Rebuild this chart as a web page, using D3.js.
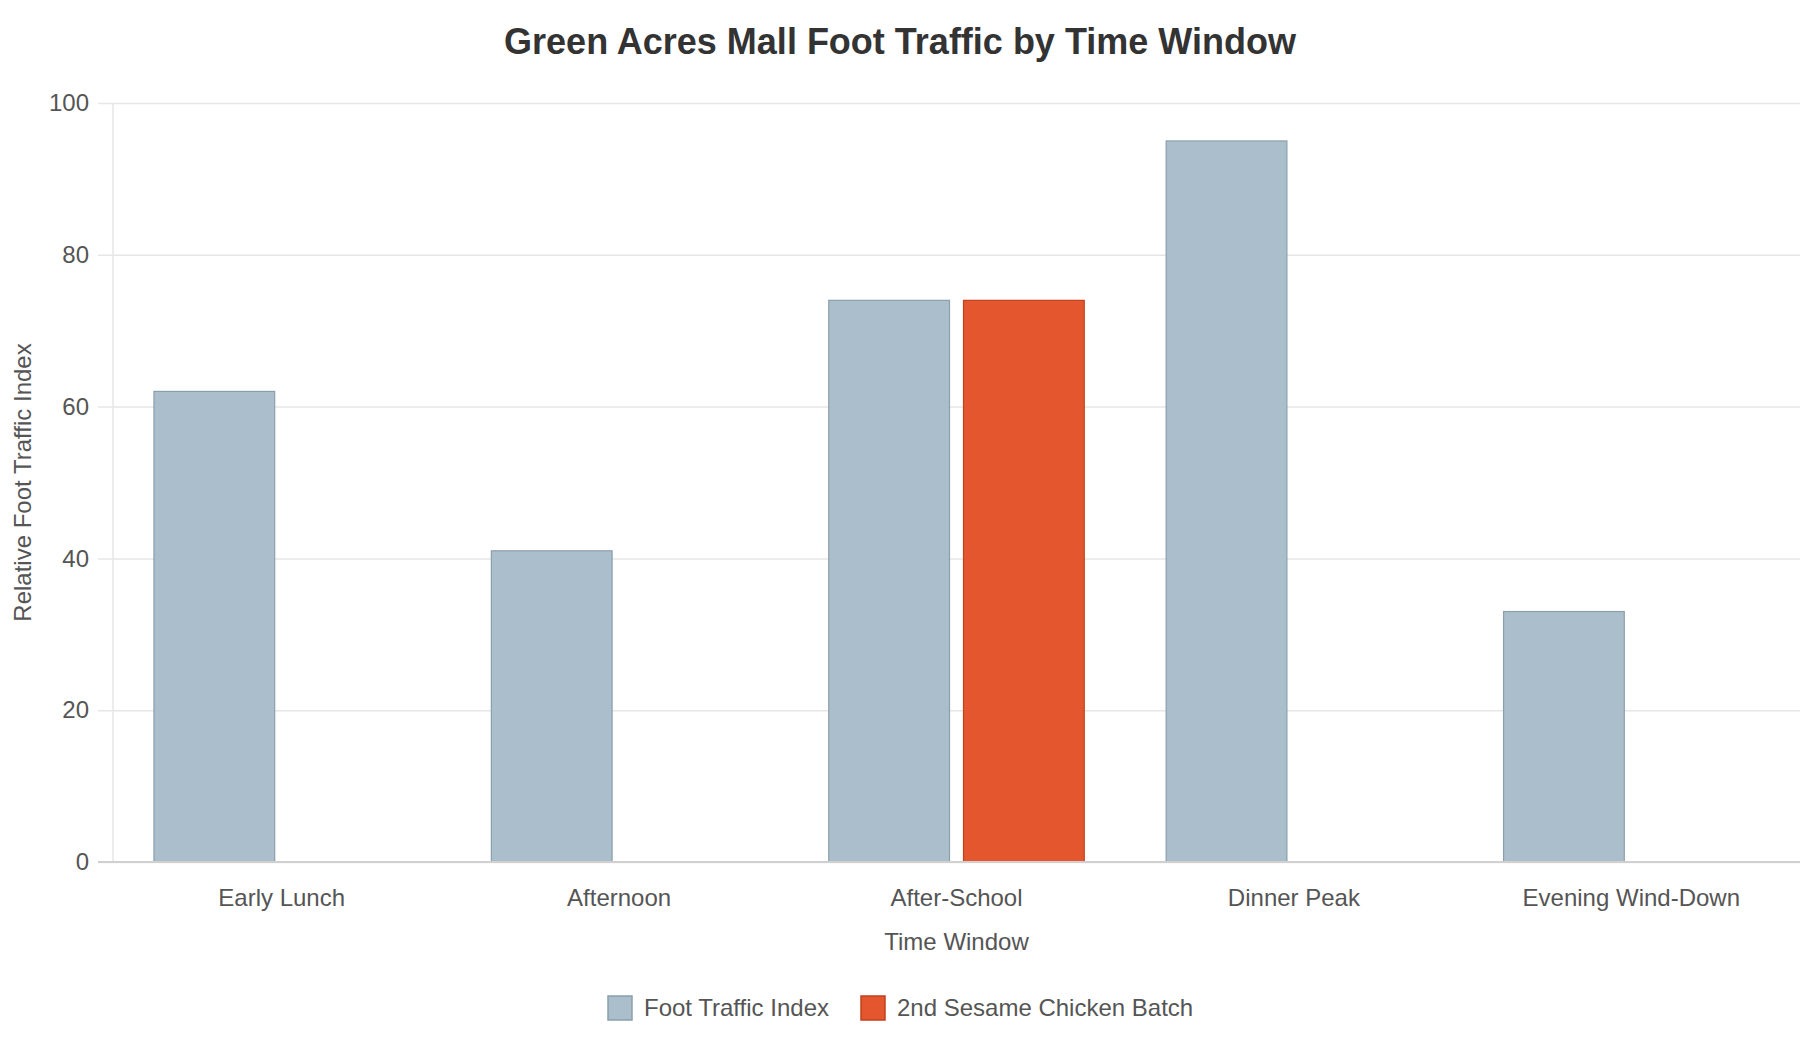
<!DOCTYPE html>
<html>
<head>
<meta charset="utf-8">
<script src="https://cdn.jsdelivr.net/npm/d3@7"></script>
<style>
  body { margin: 0; background: #fff; }
  svg text { font-family: "Liberation Sans", Arial, sans-serif; }
</style>
</head>
<body>
<div class="chart"></div>
<script>
const categories = ["Early Lunch", "Afternoon", "After-School", "Dinner Peak", "Evening Wind-Down"]
const seriesNames = ["Foot Traffic Index", "2nd Sesame Chicken Batch"]
const footTraffic = [62, 41, 74, 95, 33]
const sesameBatch = [null, null, 74, null, null]
const yTicks = [0, 20, 40, 60, 80, 100]

const colors = {
  blue: "#aabfcb",
  blueStroke: "#8b9fab",
  orange: "#e4572e",
  orangeStroke: "#c2401c",
  grid: "#e6e6e6",
  text: "#555"
}

const dims = {
  width: 1800,
  height: 1040,
  margin: { top: 103, right: 0, bottom: 178, left: 113 }
}
dims.boundedWidth = dims.width - dims.margin.left - dims.margin.right
dims.boundedHeight = dims.height - dims.margin.top - dims.margin.bottom

const rows = categories.map((c, i) => ({
  category: c,
  values: [footTraffic[i], sesameBatch[i]]
}))

const x0 = d3.scaleBand()
  .domain(categories)
  .range([0, dims.boundedWidth])
  .padding(0)

const x1 = d3.scaleBand()
  .domain(seriesNames)
  .range([0, x0.bandwidth()])
  .paddingInner(0.104)
  .paddingOuter(0.304)

const yScale = d3.scaleLinear()
  .domain([0, 100])
  .range([dims.boundedHeight, 0])

const svg = d3.select(".chart")
  .append("svg")
    .attr("width", dims.width)
    .attr("height", dims.height)

svg.append("text")
    .attr("x", dims.width / 2)
    .attr("y", 54)
    .attr("text-anchor", "middle")
    .style("font-size", "36px")
    .style("font-weight", "bold")
    .style("fill", "#333")
    .text("Green Acres Mall Foot Traffic by Time Window")

const bounds = svg.append("g")
    .attr("transform", `translate(${dims.margin.left},${dims.margin.top})`)

// gridlines + y ticks
const yAxis = bounds.append("g")
    .call(d3.axisLeft(yScale)
      .tickValues(yTicks)
      .tickSize(-dims.boundedWidth - 15)
      .tickPadding(9))
    .attr("transform", "translate(-15,0)")
    .call(g => g.select(".domain").remove())
    .call(g => g.selectAll(".tick line").attr("stroke", colors.grid).attr("stroke-width", 1.5))
    .call(g => g.selectAll(".tick text")
        .style("font-size", "24px")
        .style("fill", colors.text))

bounds.append("line")
    .attr("x1", 0).attr("x2", 0)
    .attr("y1", 0).attr("y2", dims.boundedHeight)
    .attr("stroke", colors.grid)
    .attr("stroke-width", 1.5)

const groups = bounds.selectAll(".group")
  .data(rows)
  .join("g")
    .attr("class", "group")
    .attr("transform", d => `translate(${x0(d.category)},0)`)

groups.selectAll("rect")
  .data(d => d.values.map((v, i) => ({ series: seriesNames[i], value: v }))
    .filter(e => e.value != null))
  .join("rect")
    .attr("x", d => x1(d.series))
    .attr("width", x1.bandwidth())
    .attr("y", d => yScale(d.value))
    .attr("height", d => dims.boundedHeight - yScale(d.value))
    .attr("fill", d => d.series == seriesNames[0] ? colors.blue : colors.orange)
    .attr("stroke", d => d.series == seriesNames[0] ? colors.blueStroke : colors.orangeStroke)
    .attr("stroke-width", 1.2)

// baseline
bounds.append("line")
    .attr("x1", -15).attr("x2", dims.boundedWidth)
    .attr("y1", dims.boundedHeight).attr("y2", dims.boundedHeight)
    .attr("stroke", "#d0d0d0")
    .attr("stroke-width", 2)

const xAxis = bounds.append("g")
    .attr("transform", `translate(0,${dims.boundedHeight})`)
    .call(d3.axisBottom(x0).tickSize(0).tickPadding(27))
    .call(g => g.select(".domain").remove())
    .call(g => g.selectAll(".tick text")
        .style("font-size", "24px")
        .style("fill", colors.text))

svg.append("text")
    .attr("x", dims.margin.left + dims.boundedWidth / 2)
    .attr("y", 950)
    .attr("text-anchor", "middle")
    .style("font-size", "24px")
    .style("fill", colors.text)
    .text("Time Window")

svg.append("text")
    .attr("transform", `translate(31,${dims.margin.top + dims.boundedHeight / 2}) rotate(-90)`)
    .attr("text-anchor", "middle")
    .style("font-size", "24px")
    .style("fill", colors.text)
    .text("Relative Foot Traffic Index")

// legend
const legendItems = [
  { name: seriesNames[0], fill: colors.blue, stroke: colors.blueStroke, x: 608 },
  { name: seriesNames[1], fill: colors.orange, stroke: colors.orangeStroke, x: 861 }
]
const legend = svg.append("g")
    .attr("transform", "translate(0,996)")
const li = legend.selectAll("g")
  .data(legendItems)
  .join("g")
    .attr("transform", d => `translate(${d.x},0)`)
li.append("rect")
    .attr("width", 24).attr("height", 24)
    .attr("fill", d => d.fill)
    .attr("stroke", d => d.stroke)
    .attr("stroke-width", 1.5)
li.append("text")
    .attr("x", 36)
    .attr("y", 20)
    .style("font-size", "24px")
    .style("fill", colors.text)
    .text(d => d.name)
</script>
</body>
</html>
